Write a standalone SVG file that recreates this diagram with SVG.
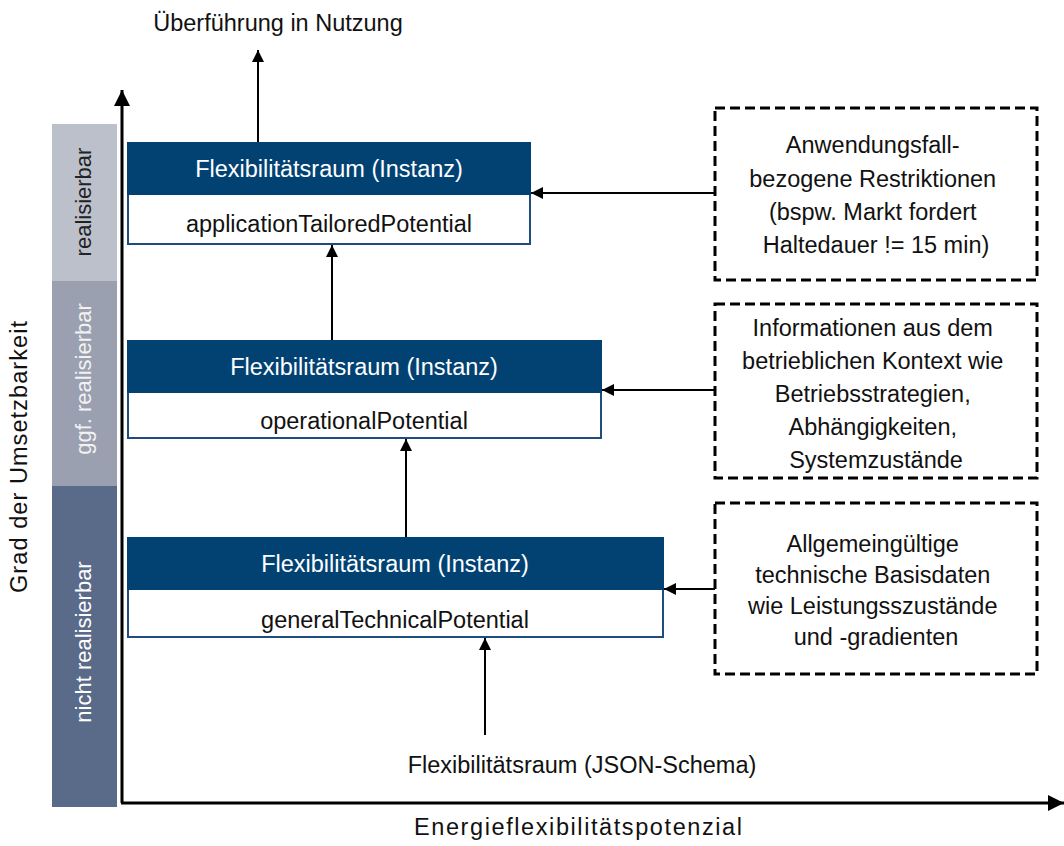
<svg xmlns="http://www.w3.org/2000/svg" width="1064" height="846" viewBox="0 0 1064 846">
  <defs>
    <marker id="arrow" viewBox="0 0 10 10" refX="10" refY="5" markerWidth="12" markerHeight="12" markerUnits="userSpaceOnUse" orient="auto">
      <path d="M0,0 L10,5 L0,10 Z" fill="#000"/>
    </marker>
    <marker id="arrowBig" viewBox="0 0 10 10" refX="10" refY="5" markerWidth="16" markerHeight="16" markerUnits="userSpaceOnUse" orient="auto">
      <path d="M0,0 L10,5 L0,10 Z" fill="#000"/>
    </marker>
  </defs>
  <style>
    text { font-family: "Liberation Sans", Arial, sans-serif; font-size: 23.5px; fill: #111; }
    .band-label { font-size: 22px; }
    .head { fill: #024273; }
    .body { fill: #fff; stroke: #1f4e7e; stroke-width: 2; }
    .head-text { fill: #fff; }
    .dashed { fill: #fff; stroke: #000; stroke-width: 3; stroke-dasharray: 10 5; }
    .conn { stroke: #000; stroke-width: 2; fill: none; marker-end: url(#arrow); }
    .axis { stroke: #000; stroke-width: 3; fill: none; marker-end: url(#arrowBig); }
  </style>
  <rect width="1064" height="846" fill="#fff"/>

  <!-- feasibility bands -->
  <g id="bands">
    <rect x="52" y="124" width="65" height="157" fill="#bcc0cb"/>
    <rect x="52" y="281" width="65" height="205" fill="#9aa0b0"/>
    <rect x="52" y="486" width="65" height="321" fill="#5a6a89"/>
    <text class="band-label" transform="translate(91,202) rotate(-90)" text-anchor="middle" style="fill:#222">realisierbar</text>
    <text class="band-label" transform="translate(91,379) rotate(-90)" text-anchor="middle" style="fill:#f2f2f2">ggf. realisierbar</text>
    <text class="band-label" transform="translate(91,642) rotate(-90)" text-anchor="middle" style="fill:#fff">nicht realisierbar</text>
  </g>

  <!-- axes -->
  <g id="axes">
    <path class="axis" d="M122,803 L122,90"/>
    <path class="axis" d="M121,803 L1064,803"/>
    <text transform="translate(27,457) rotate(-90)" text-anchor="middle" textLength="272" lengthAdjust="spacing">Grad der Umsetzbarkeit</text>
    <text x="578" y="835" text-anchor="middle" textLength="328" lengthAdjust="spacing">Energieflexibilitätspotenzial</text>
  </g>

  <!-- connectors -->
  <g id="connectors">
    <path class="conn" d="M258,142 L258,50"/>
    <path class="conn" d="M332,340 L332,245"/>
    <path class="conn" d="M406,537 L406,439"/>
    <path class="conn" d="M485,735 L485,638"/>
    <path class="conn" d="M715,193 L531,193"/>
    <path class="conn" d="M715,390 L602,390"/>
    <path class="conn" d="M715,589 L664,589"/>
  </g>

  <g id="usage-label">
    <text x="278" y="31" text-anchor="middle">Überführung in Nutzung</text>
  </g>

  <!-- instance nodes -->
  <g id="node-application">
    <rect class="body" x="128" y="143" width="402" height="101"/>
    <rect class="head" x="127" y="142" width="404" height="53"/>
    <text class="head-text" x="329" y="177" text-anchor="middle">Flexibilitätsraum (Instanz)</text>
    <text x="329" y="232" text-anchor="middle">applicationTailoredPotential</text>
  </g>
  <g id="node-operational">
    <rect class="body" x="128" y="341" width="473" height="97"/>
    <rect class="head" x="127" y="340" width="475" height="53"/>
    <text class="head-text" x="364" y="375" text-anchor="middle">Flexibilitätsraum (Instanz)</text>
    <text x="364" y="429" text-anchor="middle">operationalPotential</text>
  </g>
  <g id="node-technical">
    <rect class="body" x="128" y="538" width="535" height="99"/>
    <rect class="head" x="127" y="537" width="537" height="53"/>
    <text class="head-text" x="395" y="572" text-anchor="middle">Flexibilitätsraum (Instanz)</text>
    <text x="395" y="628" text-anchor="middle">generalTechnicalPotential</text>
  </g>

  <g id="node-schema">
    <text x="582" y="773" text-anchor="middle">Flexibilitätsraum (JSON-Schema)</text>
  </g>

  <!-- context boxes -->
  <g id="ctx-application">
    <rect class="dashed" x="715" y="108" width="322" height="172"/>
    <text text-anchor="middle">
      <tspan x="876" y="153">Anwendungsfall-</tspan>
      <tspan x="876" y="187">bezogene Restriktionen</tspan>
      <tspan x="876" y="220">(bspw. Markt fordert</tspan>
      <tspan x="876" y="253">Haltedauer != 15 min)</tspan>
    </text>
  </g>
  <g id="ctx-operational">
    <rect class="dashed" x="715" y="304" width="322" height="174"/>
    <text text-anchor="middle">
      <tspan x="876" y="336">Informationen aus dem</tspan>
      <tspan x="876" y="369">betrieblichen Kontext wie</tspan>
      <tspan x="876" y="402">Betriebsstrategien,</tspan>
      <tspan x="876" y="435">Abhängigkeiten,</tspan>
      <tspan x="876" y="468">Systemzustände</tspan>
    </text>
  </g>
  <g id="ctx-technical">
    <rect class="dashed" x="715" y="503" width="322" height="171"/>
    <text text-anchor="middle">
      <tspan x="876" y="552">Allgemeingültige</tspan>
      <tspan x="876" y="583">technische Basisdaten</tspan>
      <tspan x="876" y="614">wie Leistungsszustände</tspan>
      <tspan x="876" y="645">und -gradienten</tspan>
    </text>
  </g>
</svg>
